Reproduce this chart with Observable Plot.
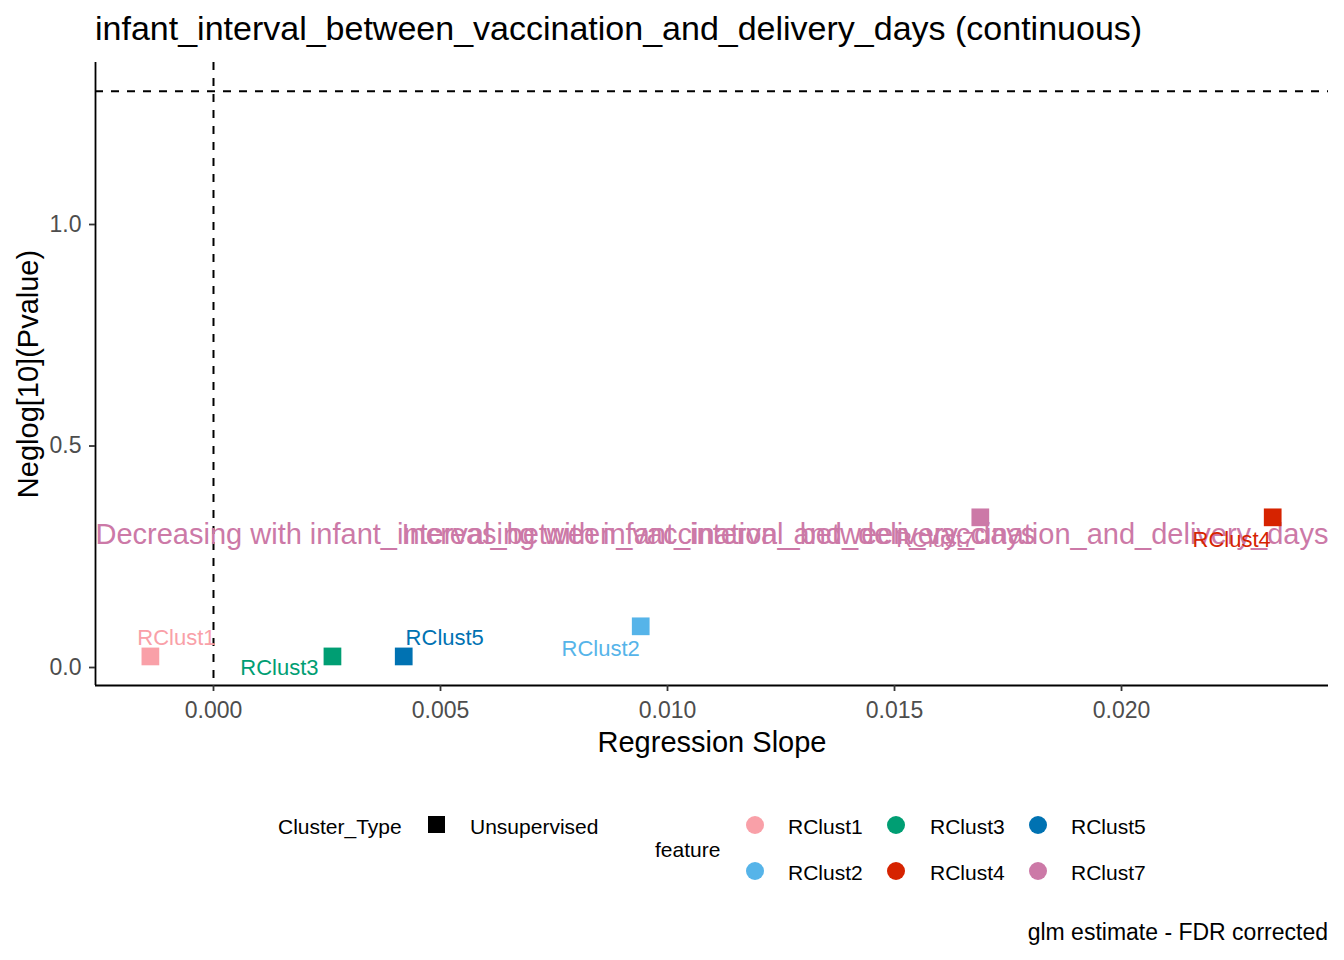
<!DOCTYPE html>
<html>
<head>
<meta charset="utf-8">
<script src="https://cdn.jsdelivr.net/npm/d3@7"></script>
<script src="https://cdn.jsdelivr.net/npm/@observablehq/plot@0.6"></script>
<style>
  html, body { margin: 0; padding: 0; background: #fff; }
  #wrap { position: relative; width: 1344px; height: 960px; font-family: "Liberation Sans", Arial, sans-serif; color: #000; }
  .t { position: absolute; white-space: nowrap; }
  #chart { position: absolute; left: 0; top: 50px; }
  .sq { position: absolute; width: 17px; height: 17px; background: #000; }
  .dot { position: absolute; width: 18px; height: 18px; border-radius: 50%; }
</style>
</head>
<body>
<div id="wrap">
  <div class="t" id="title" style="left:95px; top:11px; font-size:34px; line-height:34px;">infant_interval_between_vaccination_and_delivery_days (continuous)</div>
  <div id="chart"></div>
  <div id="legend"></div>
  <div class="t" style="right:16px; top:921px; font-size:23px; line-height:23px;">glm estimate - FDR corrected</div>
</div>
<script>
// ---- data ----
const features = ["RClust1", "RClust2", "RClust3", "RClust4", "RClust5", "RClust7"];
const slopes   = [-0.00139, 0.00941, 0.00262, 0.02333, 0.00419, 0.01689];
const negLogP  = [0.025, 0.093, 0.025, 0.339, 0.025, 0.339];
const featureColors = ["#F9A0A8", "#56B4E9", "#009E73", "#D62300", "#0072B2", "#CC79A7"];
const clusterTypes = ["Unsupervised"];
const xTicks = [0, 0.005, 0.010, 0.015, 0.020];
const yTicks = [0, 0.5, 1.0];
const sigThreshold = -Math.log10(0.05);
const variableName = "infant_interval_between_vaccination_and_delivery_days";
const annotations = ["Decreasing with " + variableName, "Increasing with " + variableName];
const annotationY = 0.3;

// label nudges (repel-like placement), in pixels
const labelNudge = {
  RClust1: [26, -18], RClust2: [-40, 23], RClust3: [-53, 12],
  RClust4: [-41, 23], RClust5: [41, -18], RClust7: [-45, 23]
};

const rows = features.map((f, i) => ({feature: f, slope: slopes[i], nlp: negLogP[i], type: clusterTypes[0]}));

const xDomain = [-0.002599, 0.024559];
const yDomain = [-0.0406, 1.3657];
const font = "Liberation Sans, Arial, sans-serif";

const labelMarks = rows.map(r => Plot.text([r], {
  x: "slope", y: "nlp", text: "feature", fill: "feature",
  dx: labelNudge[r.feature][0], dy: labelNudge[r.feature][1], fontSize: 22
}));

const chart = Plot.plot({
  width: 1344,
  height: 720,
  marginTop: 12,
  marginLeft: 95,
  marginRight: 16,
  marginBottom: 85,
  style: {fontFamily: font, background: "#fff", overflow: "visible"},
  x: {domain: xDomain},
  y: {domain: yDomain},
  color: {domain: features, range: featureColors},
  marks: [
    Plot.ruleY([sigThreshold], {stroke: "#000", strokeWidth: 2, strokeDasharray: "8,8"}),
    Plot.ruleX([0], {stroke: "#000", strokeWidth: 2, strokeDasharray: "8,8"}),
    Plot.ruleX([xDomain[0]], {stroke: "#000", strokeWidth: 1.8}),
    Plot.ruleY([yDomain[0]], {stroke: "#000", strokeWidth: 1.8}),
    Plot.axisX({ticks: xTicks, tickFormat: d3.format(".3f"), tickSize: 6, tickPadding: 10, fontSize: 23, fill: "#4D4D4D", stroke: "#333", strokeWidth: 1.8, label: null}),
    Plot.axisY({ticks: yTicks, tickFormat: d3.format(".1f"), tickSize: 6, tickPadding: 8, fontSize: 23, fill: "#4D4D4D", stroke: "#333", strokeWidth: 1.8, label: null}),
    Plot.text(["Regression Slope"], {frameAnchor: "bottom", lineAnchor: "middle", dy: 57, fontSize: 29, fill: "#000"}),
    Plot.text(["Neglog[10](Pvalue)"], {frameAnchor: "left", textAnchor: "middle", lineAnchor: "middle", dx: -67, rotate: -90, fontSize: 29, fill: "#000"}),
    Plot.text([annotations[0]], {x: () => xDomain[0], y: () => annotationY, text: d => d, textAnchor: "start", fontSize: 29, fill: "#CC79A7"}),
    Plot.text([annotations[1]], {x: () => xDomain[1], y: () => annotationY, text: d => d, textAnchor: "end", fontSize: 29, fill: "#CC79A7"}),
    Plot.dot(rows, {x: "slope", y: "nlp", symbol: "square", r: 10, fill: "feature", stroke: null}),
    ...labelMarks
  ]
});
document.getElementById("chart").appendChild(chart);

// ---- legend (HTML) ----
const lg = document.getElementById("legend");
function addText(txt, left, cy, size) {
  const d = document.createElement("div");
  d.className = "t";
  d.textContent = txt;
  d.style.left = left + "px";
  d.style.top = (cy - size / 2) + "px";
  d.style.fontSize = size + "px";
  d.style.lineHeight = size + "px";
  lg.appendChild(d);
}
addText("Cluster_Type", 278, 826, 21);
const sq = document.createElement("div");
sq.className = "sq"; sq.style.left = "428px"; sq.style.top = "816px";
lg.appendChild(sq);
addText(clusterTypes[0], 470, 826, 21);
addText("feature", 655, 849, 21);
const legendOrder = ["RClust1", "RClust2", "RClust3", "RClust4", "RClust5", "RClust7"];
const colX = [755, 896, 1038];
const labX = [788, 930, 1071];
const rowY = [825, 871];
legendOrder.forEach((f, i) => {
  const c = Math.floor(i / 2), r = i % 2;
  const d = document.createElement("div");
  d.className = "dot";
  d.style.background = featureColors[features.indexOf(f)];
  d.style.left = (colX[c] - 9) + "px";
  d.style.top = (rowY[r] - 9) + "px";
  lg.appendChild(d);
  addText(f, labX[c], rowY[r] + 1, 21);
});
</script>
</body>
</html>
